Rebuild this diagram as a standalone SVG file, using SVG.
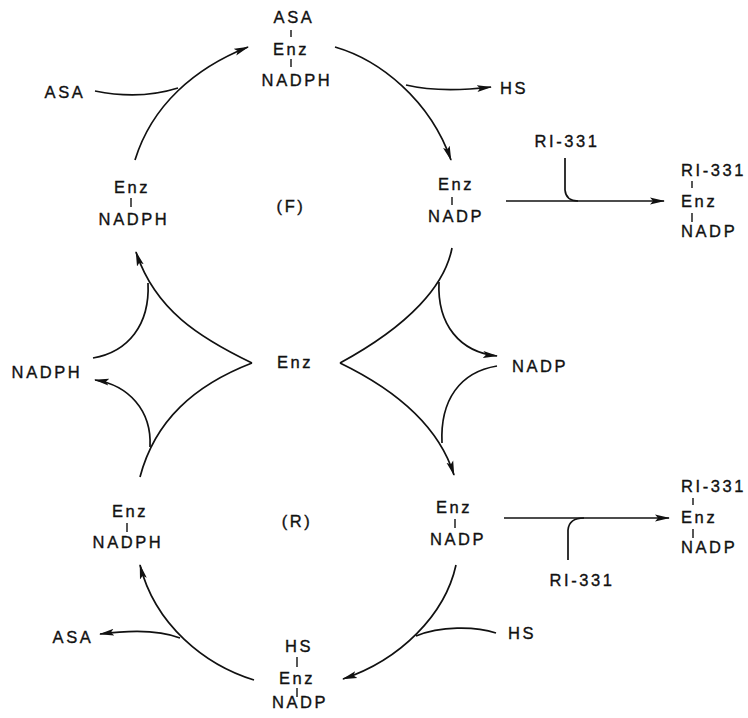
<svg xmlns="http://www.w3.org/2000/svg" width="748" height="718" viewBox="0 0 748 718">
<style>
.t{font-family:"Liberation Sans",Arial,sans-serif;font-size:16.5px;letter-spacing:2.6px;fill:#111;stroke:#111;stroke-width:0.35;text-anchor:middle}
.s{text-anchor:start}
.b{stroke:#111;stroke-width:1.4}
.c{fill:none;stroke:#111;stroke-width:1.7}
.a{marker-end:url(#ah)}
</style>
<defs>
<marker id="ah" markerUnits="userSpaceOnUse" viewBox="0 0 15 9" refX="14" refY="4.5" markerWidth="15" markerHeight="9" orient="auto">
<path d="M0,1 L15,4.5 L0,8 L3,4.5 z" fill="#111"/>
</marker>
</defs>
<rect width="748" height="718" fill="#fff"/>

<g id="connectors">
<path class="c a" d="M135,160 C152,105 195,68 248,47"/>
<path class="c" d="M95,91 Q140,100 178,88"/>
<path class="c a" d="M335,47 C380,60 430,100 451,160"/>
<path class="c a" d="M406,85 Q440,93 491,87"/>
<path class="c" d="M452,248 C445,285 410,325 340,363"/>
<path class="c a" d="M439,282 C437,325 460,352 497,356"/>
<path class="c a" d="M340,363 C400,392 440,430 454,475"/>
<path class="c" d="M497,366 C460,372 440,400 442,443"/>
<path class="c a" d="M252,363 C200,338 155,310 136,252"/>
<path class="c" d="M93,358 C128,352 150,325 148,283"/>
<path class="c" d="M140,477 C155,420 195,385 252,363"/>
<path class="c a" d="M150,447 C152,410 128,385 95,380"/>
<path class="c a" d="M254,680 C205,665 155,625 140,565"/>
<path class="c a" d="M180,638 C160,630 130,630 100,634"/>
<path class="c a" d="M456,565 C445,615 400,660 343,679"/>
<path class="c" d="M496,633 C475,626 440,626 416,636"/>
<path class="c a" d="M506,201 L664,201"/>
<path class="c" d="M565,158 L565,190 Q566,201 578,201"/>
<path class="c a" d="M504,518 L669,518"/>
<path class="c" d="M568,560 L568,530 Q569,518 584,518"/>
</g>

<g id="asa-enz-nadph-top">
<text class="t" x="294" y="23">ASA</text>
<line class="b" x1="291" y1="30" x2="291" y2="37"/>
<text class="t" x="291" y="55">Enz</text>
<line class="b" x1="291" y1="59" x2="291" y2="67"/>
<text class="t" x="297" y="86">NADPH</text>
</g>
<g id="asa-in"><text class="t" x="65" y="98">ASA</text></g>
<g id="hs-out"><text class="t" x="514" y="94">HS</text></g>
<g id="enz-nadph-f">
<text class="t" x="132" y="193">Enz</text>
<line class="b" x1="131" y1="198" x2="131" y2="207"/>
<text class="t" x="134" y="225">NADPH</text>
</g>
<g id="label-f"><text class="t" x="291" y="212">(F)</text></g>
<g id="enz-nadp-f">
<text class="t" x="456" y="190">Enz</text>
<line class="b" x1="452" y1="197" x2="452" y2="205"/>
<text class="t" x="456" y="222">NADP</text>
</g>
<g id="ri331-top"><text class="t" x="567" y="147">RI-331</text></g>
<g id="product-top">
<text class="t s" x="681" y="176">RI-331</text>
<line class="b" x1="692" y1="181" x2="692" y2="188"/>
<text class="t s" x="681" y="207">Enz</text>
<line class="b" x1="692" y1="213" x2="692" y2="222"/>
<text class="t s" x="681" y="237">NADP</text>
</g>

<g id="nadph-mid"><text class="t" x="47" y="378">NADPH</text></g>
<g id="enz-mid"><text class="t" x="295" y="368">Enz</text></g>
<g id="nadp-mid"><text class="t" x="540" y="372">NADP</text></g>

<g id="enz-nadph-r">
<text class="t" x="130" y="517">Enz</text>
<line class="b" x1="127" y1="523" x2="127" y2="532"/>
<text class="t" x="128" y="548">NADPH</text>
</g>
<g id="label-r"><text class="t" x="297" y="527">(R)</text></g>
<g id="enz-nadp-r">
<text class="t" x="454" y="513">Enz</text>
<line class="b" x1="455" y1="519" x2="455" y2="528"/>
<text class="t" x="458" y="545">NADP</text>
</g>
<g id="ri331-bottom"><text class="t" x="582" y="586">RI-331</text></g>
<g id="product-bottom">
<text class="t s" x="681" y="492">RI-331</text>
<line class="b" x1="693" y1="498" x2="693" y2="505"/>
<text class="t s" x="681" y="523">Enz</text>
<line class="b" x1="693" y1="529" x2="693" y2="538"/>
<text class="t s" x="681" y="553">NADP</text>
</g>
<g id="asa-out"><text class="t" x="73" y="643">ASA</text></g>
<g id="hs-in"><text class="t" x="522" y="639">HS</text></g>
<g id="hs-enz-nadp">
<text class="t" x="299" y="652">HS</text>
<line class="b" x1="297" y1="657" x2="297" y2="667"/>
<text class="t" x="297" y="684">Enz</text>
<line class="b" x1="297" y1="688" x2="297" y2="697"/>
<text class="t" x="300" y="708">NADP</text>
</g>
</svg>
